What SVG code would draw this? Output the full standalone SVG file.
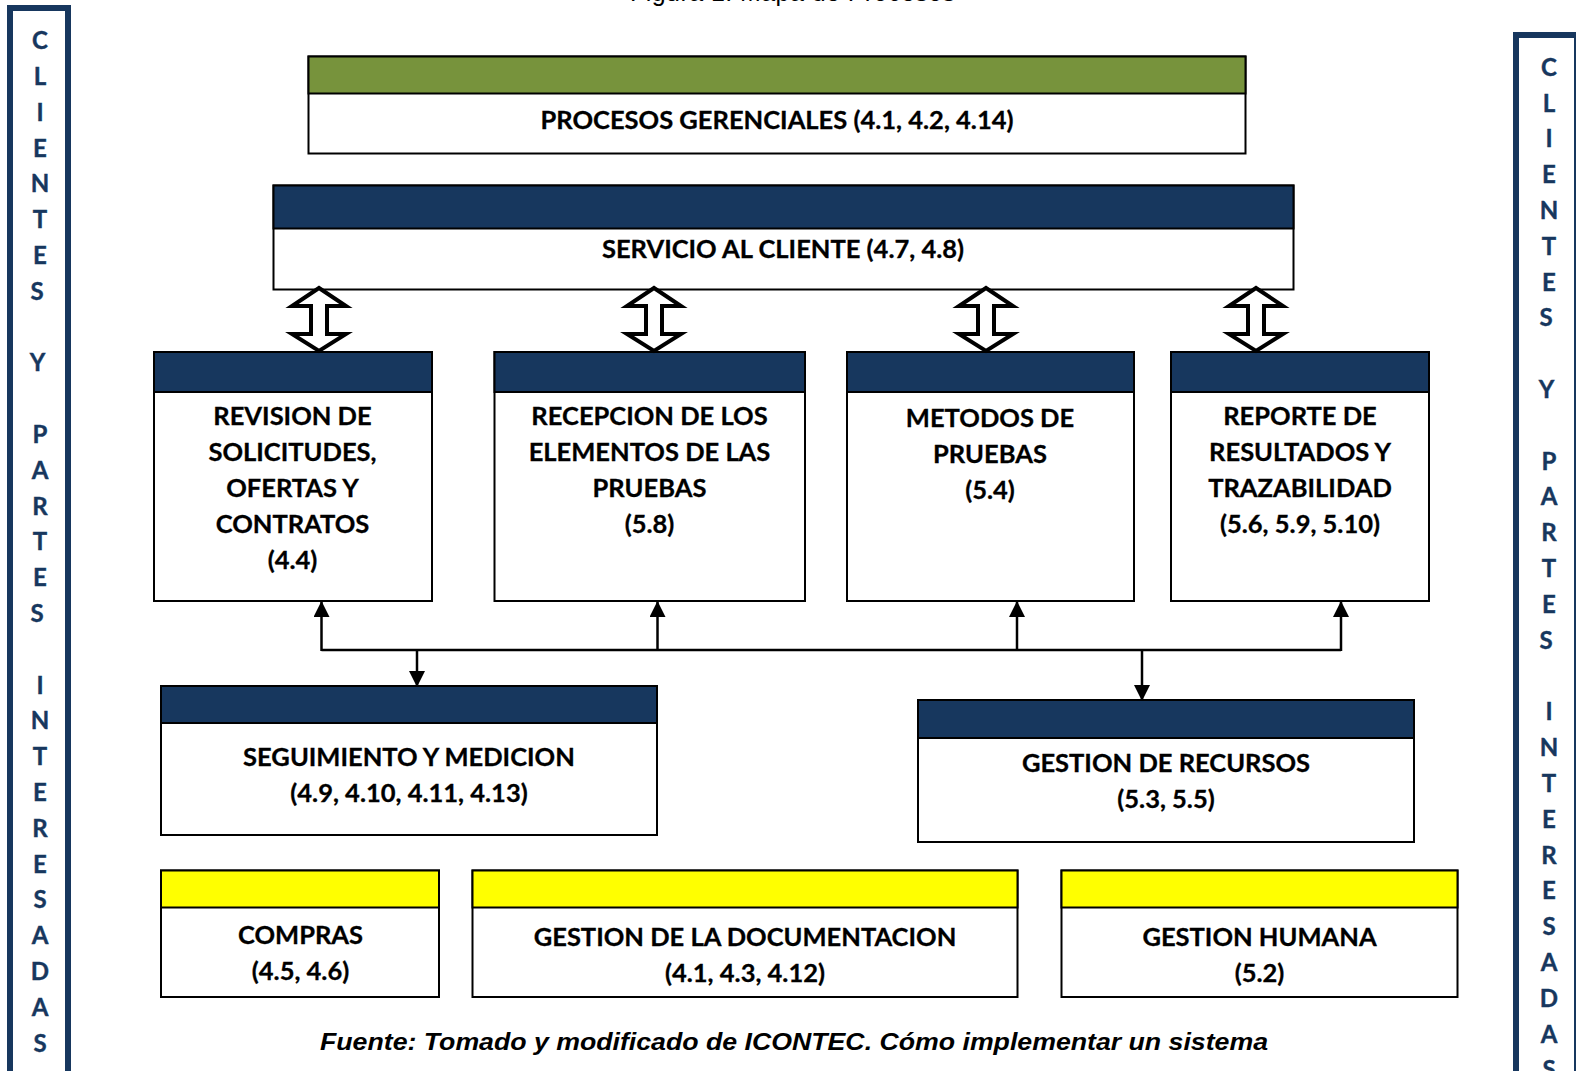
<svg xmlns="http://www.w3.org/2000/svg" width="1576" height="1071" viewBox="0 0 1576 1071">
<style>
.box{fill:#fff;stroke:#000;stroke-width:2}
.navy{fill:#17375e;stroke:#000;stroke-width:2}
.green{fill:#77933c;stroke:#000;stroke-width:2}
.yellow{fill:#ffff00;stroke:#000;stroke-width:2}
.t{font-family:Lato,"Liberation Sans",sans-serif;font-weight:bold;font-size:25.5px;fill:#000;text-anchor:middle;stroke:#000;stroke-width:0.3}
.side{font-family:Lato,"Liberation Sans",sans-serif;font-weight:bold;font-size:24px;fill:#17375e;text-anchor:middle;stroke:#17375e;stroke-width:0.4}
.frame{fill:none;stroke:#17375e;stroke-width:6}
.dbl{fill:#fff;stroke:#000;stroke-width:4;stroke-linejoin:miter}
.con{fill:none;stroke:#000;stroke-width:2.5}
.cap{font-family:"Liberation Sans",Arial,sans-serif;font-weight:bold;font-style:italic;font-size:24px;fill:#000}
</style>
<defs>
<marker id="ah" markerUnits="userSpaceOnUse" markerWidth="16" markerHeight="16" viewBox="0 0 16 16" refX="15" refY="8" orient="auto">
<path d="M0,0 L16,8 L0,16 Z" fill="#000"/>
</marker>
</defs>
<rect width="1576" height="1071" fill="#fff"/>
<text x="630" y="1" font-family="Liberation Sans,Arial,sans-serif" font-size="25" textLength="325" fill="#000">Figura 1. Mapa de Procesos</text>

<g id="frame-left">
<rect class="frame" x="10" y="8" width="58" height="1080"/>
<text class="side">
<tspan x="40" y="49">C</tspan><tspan x="40" y="85">L</tspan><tspan x="40" y="121">I</tspan><tspan x="40" y="157">E</tspan><tspan x="40" y="192">N</tspan><tspan x="40" y="228">T</tspan><tspan x="40" y="264">E</tspan><tspan x="40" y="300">S</tspan>
<tspan x="40" y="371">Y</tspan>
<tspan x="40" y="443">P</tspan><tspan x="40" y="479">A</tspan><tspan x="40" y="515">R</tspan><tspan x="40" y="550">T</tspan><tspan x="40" y="586">E</tspan><tspan x="40" y="622">S</tspan>
<tspan x="40" y="694">I</tspan><tspan x="40" y="729">N</tspan><tspan x="40" y="765">T</tspan><tspan x="40" y="801">E</tspan><tspan x="40" y="837">R</tspan><tspan x="40" y="873">E</tspan><tspan x="40" y="908">S</tspan><tspan x="40" y="944">A</tspan><tspan x="40" y="980">D</tspan><tspan x="40" y="1016">A</tspan><tspan x="40" y="1052">S</tspan>
</text>
</g>

<g id="frame-right">
<rect class="frame" x="1516" y="35" width="61" height="1060"/>
<text class="side">
<tspan x="1549" y="76">C</tspan><tspan x="1549" y="112">L</tspan><tspan x="1549" y="147">I</tspan><tspan x="1549" y="183">E</tspan><tspan x="1549" y="219">N</tspan><tspan x="1549" y="255">T</tspan><tspan x="1549" y="291">E</tspan><tspan x="1549" y="326">S</tspan>
<tspan x="1549" y="398">Y</tspan>
<tspan x="1549" y="470">P</tspan><tspan x="1549" y="505">A</tspan><tspan x="1549" y="541">R</tspan><tspan x="1549" y="577">T</tspan><tspan x="1549" y="613">E</tspan><tspan x="1549" y="649">S</tspan>
<tspan x="1549" y="720">I</tspan><tspan x="1549" y="756">N</tspan><tspan x="1549" y="792">T</tspan><tspan x="1549" y="828">E</tspan><tspan x="1549" y="864">R</tspan><tspan x="1549" y="899">E</tspan><tspan x="1549" y="935">S</tspan><tspan x="1549" y="971">A</tspan><tspan x="1549" y="1007">D</tspan><tspan x="1549" y="1043">A</tspan><tspan x="1549" y="1078">S</tspan>
</text>
</g>

<g id="procesos-gerenciales">
<rect class="box" x="308.5" y="56.5" width="937" height="97"/>
<rect class="green" x="308.5" y="56.5" width="937" height="37"/>
<text class="t" x="777" y="129">PROCESOS GERENCIALES (4.1, 4.2, 4.14)</text>
</g>

<g id="servicio-cliente">
<rect class="box" x="273.5" y="185.5" width="1020" height="104"/>
<rect class="navy" x="273.5" y="185.5" width="1020" height="43"/>
<text class="t" x="783" y="258">SERVICIO AL CLIENTE (4.7, 4.8)</text>
</g>

<g id="revision">
<rect class="box" x="154" y="352" width="278" height="249"/>
<rect class="navy" x="154" y="352" width="278" height="40"/>
<text class="t"><tspan x="292.5" y="425">REVISION DE</tspan><tspan x="292.5" y="461">SOLICITUDES,</tspan><tspan x="292.5" y="497">OFERTAS Y</tspan><tspan x="292.5" y="533">CONTRATOS</tspan><tspan x="292.5" y="569">(4.4)</tspan></text>
</g>

<g id="recepcion">
<rect class="box" x="494.5" y="352" width="310.5" height="249"/>
<rect class="navy" x="494.5" y="352" width="310.5" height="40"/>
<text class="t"><tspan x="649.5" y="425">RECEPCION DE LOS</tspan><tspan x="649.5" y="461">ELEMENTOS DE LAS</tspan><tspan x="649.5" y="497">PRUEBAS</tspan><tspan x="649.5" y="533">(5.8)</tspan></text>
</g>

<g id="metodos">
<rect class="box" x="847" y="352" width="287" height="249"/>
<rect class="navy" x="847" y="352" width="287" height="40"/>
<text class="t"><tspan x="990" y="427">METODOS DE</tspan><tspan x="990" y="463">PRUEBAS</tspan><tspan x="990" y="499">(5.4)</tspan></text>
</g>

<g id="reporte">
<rect class="box" x="1171" y="352" width="258" height="249"/>
<rect class="navy" x="1171" y="352" width="258" height="40"/>
<text class="t"><tspan x="1300" y="425">REPORTE DE</tspan><tspan x="1300" y="461">RESULTADOS Y</tspan><tspan x="1300" y="497">TRAZABILIDAD</tspan><tspan x="1300" y="533">(5.6, 5.9, 5.10)</tspan></text>
</g>

<g id="seguimiento">
<rect class="box" x="161" y="686" width="496" height="149"/>
<rect class="navy" x="161" y="686" width="496" height="37"/>
<text class="t"><tspan x="409" y="766">SEGUIMIENTO Y MEDICION</tspan><tspan x="409" y="802">(4.9, 4.10, 4.11, 4.13)</tspan></text>
</g>

<g id="gestion-recursos">
<rect class="box" x="918" y="700" width="496" height="142"/>
<rect class="navy" x="918" y="700" width="496" height="38"/>
<text class="t"><tspan x="1166" y="772">GESTION DE RECURSOS</tspan><tspan x="1166" y="808">(5.3, 5.5)</tspan></text>
</g>

<g id="compras">
<rect class="box" x="161" y="870.5" width="278" height="126.5"/>
<rect class="yellow" x="161" y="870.5" width="278" height="37"/>
<text class="t"><tspan x="300.5" y="944">COMPRAS</tspan><tspan x="300.5" y="980">(4.5, 4.6)</tspan></text>
</g>

<g id="gestion-documentacion">
<rect class="box" x="472.5" y="870.5" width="545" height="126.5"/>
<rect class="yellow" x="472.5" y="870.5" width="545" height="37"/>
<text class="t"><tspan x="745" y="946">GESTION DE LA DOCUMENTACION</tspan><tspan x="745" y="982">(4.1, 4.3, 4.12)</tspan></text>
</g>

<g id="gestion-humana">
<rect class="box" x="1061.5" y="870.5" width="396" height="126.5"/>
<rect class="yellow" x="1061.5" y="870.5" width="396" height="37"/>
<text class="t"><tspan x="1259.5" y="946">GESTION HUMANA</tspan><tspan x="1259.5" y="982">(5.2)</tspan></text>
</g>

<g id="connectors">
<polygon class="dbl" points="319,288 346,306 327,306 327,334 346,334 319,351 292,334 311,334 311,306 292,306"/>
<polygon class="dbl" points="654,288 681,306 662,306 662,334 681,334 654,351 627,334 646,334 646,306 627,306"/>
<polygon class="dbl" points="986,288 1013,306 994,306 994,334 1013,334 986,351 959,334 978,334 978,306 959,306"/>
<polygon class="dbl" points="1256,288 1283,306 1264,306 1264,334 1283,334 1256,351 1229,334 1248,334 1248,306 1229,306"/>
<line class="con" x1="321.5" y1="650" x2="1341" y2="650"/>
<line class="con" x1="321.5" y1="651" x2="321.5" y2="602" marker-end="url(#ah)"/>
<line class="con" x1="657.5" y1="651" x2="657.5" y2="602" marker-end="url(#ah)"/>
<line class="con" x1="1017" y1="651" x2="1017" y2="602" marker-end="url(#ah)"/>
<line class="con" x1="1341" y1="651" x2="1341" y2="602" marker-end="url(#ah)"/>
<line class="con" x1="417" y1="650" x2="417" y2="686" marker-end="url(#ah)"/>
<line class="con" x1="1142" y1="650" x2="1142" y2="700" marker-end="url(#ah)"/>
</g>

<text class="cap" x="794" y="1050" text-anchor="middle" textLength="948" lengthAdjust="spacingAndGlyphs">Fuente: Tomado y modificado de ICONTEC. Cómo implementar un sistema</text>
</svg>
